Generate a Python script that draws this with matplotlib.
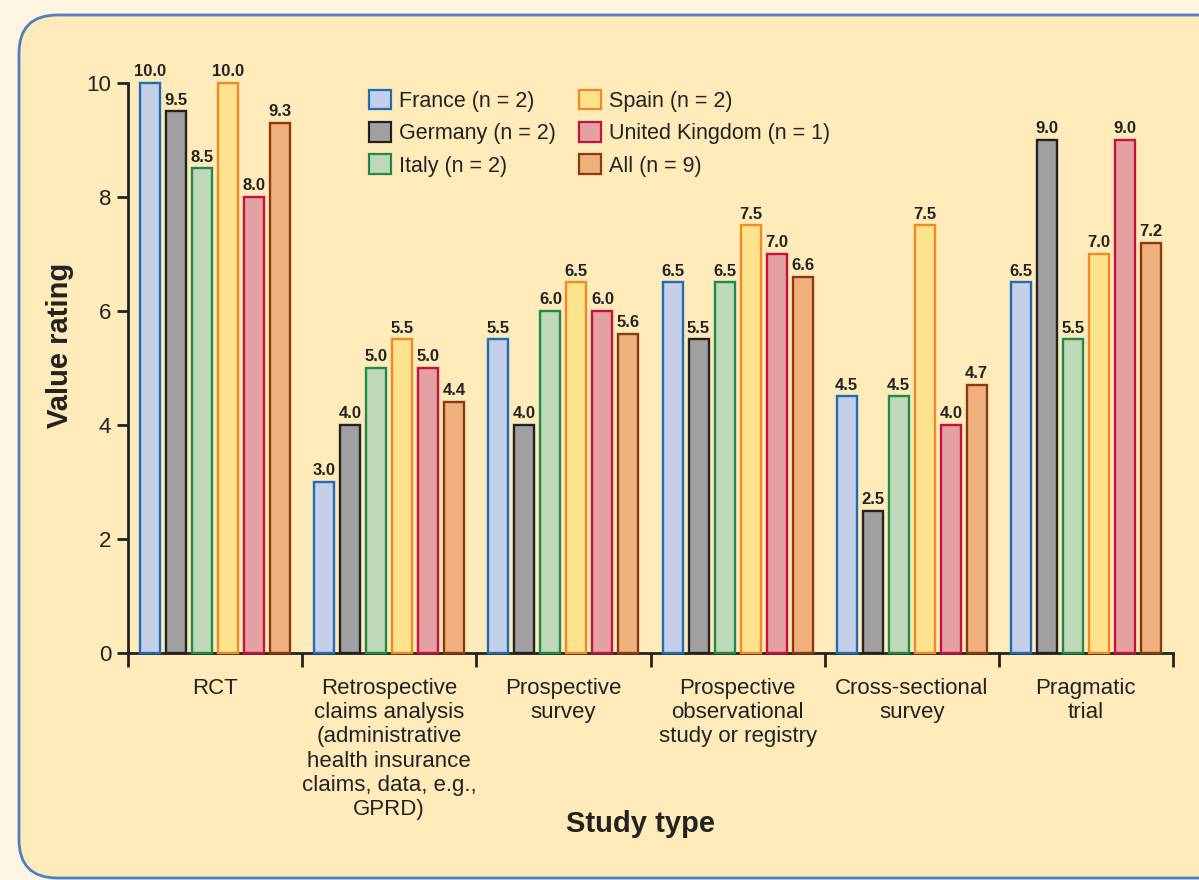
import matplotlib
matplotlib.use("Agg")
import matplotlib.pyplot as plt
import numpy as np
from matplotlib.patches import FancyBboxPatch, Patch

plt.rcParams['font.family'] = ['Liberation Sans', 'DejaVu Sans']

categories = ["RCT",
              "Retrospective\nclaims analysis\n(administrative\nhealth insurance\nclaims, data, e.g.,\nGPRD)",
              "Prospective\nsurvey",
              "Prospective\nobservational\nstudy or registry",
              "Cross-sectional\nsurvey",
              "Pragmatic\ntrial"]
series_names = ["France (n = 2)", "Germany (n = 2)", "Italy (n = 2)",
                "Spain (n = 2)", "United Kingdom (n = 1)", "All (n = 9)"]
france = [10.0, 3.0, 5.5, 6.5, 4.5, 6.5]
germany = [9.5, 4.0, 4.0, 5.5, 2.5, 9.0]
italy = [8.5, 5.0, 6.0, 6.5, 4.5, 5.5]
spain = [10.0, 5.5, 6.5, 7.5, 7.5, 7.0]
uk = [8.0, 5.0, 6.0, 7.0, 4.0, 9.0]
all_ = [9.3, 4.4, 5.6, 6.6, 4.7, 7.2]
series = [france, germany, italy, spain, uk, all_]
yticks = [0, 2, 4, 6, 8, 10]

fills = ["#C5CFE8", "#A0A0A0", "#BFD9B8", "#FDE38E", "#E3A1A1", "#F0B07E"]
edges = ["#1F6BB5", "#222222", "#1F8A4C", "#F08A24", "#C8103E", "#8B3A10"]

fig = plt.figure(figsize=(11.99, 8.8), dpi=100)
fig.patch.set_facecolor("#FDF5E1")
box = FancyBboxPatch((19/1199, 2/880), 1.2, (880-17)/880,
                     boxstyle="round,pad=0,rounding_size=0.032",
                     transform=fig.transFigure, facecolor="#FEEBB9",
                     edgecolor="#4F7FC0", linewidth=2.0, mutation_aspect=1199/880,
                     zorder=-10)
fig.add_artist(box)

ax = fig.add_axes([128/1199, 1-653/880, 1045/1199, 570/880])
ax.set_facecolor("none")
ax.set_zorder(1)

n = len(categories)
x = np.arange(n)
step = 26/174
width = 20/174
for i, (vals, fc, ec) in enumerate(zip(series, fills, edges)):
    pos = x + (i - 2.5) * step
    ax.bar(pos, vals, width=width, facecolor=fc, edgecolor=ec,
           linewidth=1.7, label=series_names[i], clip_on=False, zorder=3)
    for xp, v in zip(pos, vals):
        ax.text(xp, v + 0.07, f"{v:.1f}", ha="center", va="bottom",
                fontsize=12, fontweight="bold", color="#222222",
                family=["Liberation Sans Narrow", "Liberation Sans"], clip_on=False)

ax.set_xlim(-0.5, n - 0.5)
ax.set_ylim(0, 10)
ax.set_yticks(yticks)
ax.set_yticklabels([str(t) for t in yticks], fontsize=16, color="#222222")
ax.set_xticks(np.arange(n + 1) - 0.5)
ax.set_xticklabels([])
ax.set_xticks(x, minor=True)
ax.set_xticklabels(categories, minor=True, fontsize=16, color="#222222",
                   linespacing=1.2, va="top")
ax.tick_params(axis="x", which="minor", length=0, pad=18)
ax.tick_params(axis="x", which="major", length=10, width=2, color="#222222", direction="out")
ax.tick_params(axis="y", length=8, width=2, color="#222222", pad=4)
for s in ["top", "right"]:
    ax.spines[s].set_visible(False)
for s in ["left", "bottom"]:
    ax.spines[s].set_linewidth(2)
    ax.spines[s].set_color("#222222")

ax.set_xlabel("Study type", fontsize=21, fontweight="bold", color="#222222")
ax.xaxis.set_label_coords((641-128)/1045, -(810-653)/570)
ax.set_ylabel("Value rating", fontsize=21, fontweight="bold", color="#222222")
ax.yaxis.set_label_coords(-(128-74)/1045, (653-345)/570)

handles = [Patch(facecolor=fc, edgecolor=ec, linewidth=1.6) for fc, ec in zip(fills, edges)]
leg = ax.legend(handles, series_names, ncol=2, loc="upper left",
                bbox_to_anchor=((360-128)/1045, 1.003), frameon=False,
                fontsize=15.5, handlelength=1.02, handleheight=1.02,
                handletextpad=0.37, columnspacing=1.1, labelspacing=0.47,
                borderaxespad=0)
for t in leg.get_texts():
    t.set_color("#222222")

fig.savefig("out.png", dpi=100, facecolor=fig.get_facecolor())
